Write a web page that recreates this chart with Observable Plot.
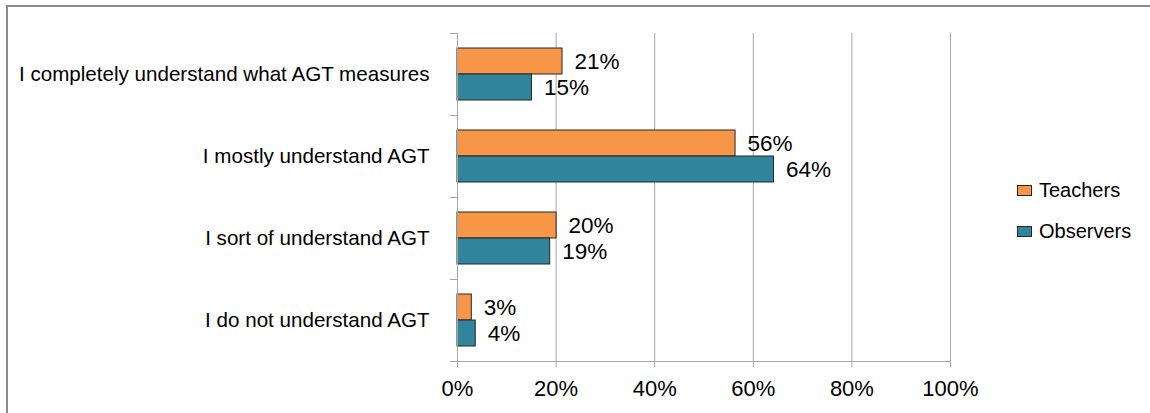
<!DOCTYPE html>
<html>
<head>
<meta charset="utf-8">
<script src="https://cdn.jsdelivr.net/npm/d3@7"></script>
<script src="https://cdn.jsdelivr.net/npm/@observablehq/plot@0.6"></script>
<style>
  html, body { margin: 0; padding: 0; background: #fff; }
  #wrap { position: relative; width: 1150px; height: 413px; overflow: hidden; font-family: "Liberation Sans", Arial, sans-serif; }
  #border { position: absolute; left: 6px; top: 5px; width: 1200px; height: 500px; border-top: 2px solid #8c8c8c; border-left: 2px solid #8c8c8c; }
  #chart { position: absolute; left: 0; top: 0; }
  #legend { position: absolute; left: 1017px; top: 176px; font-size: 20px; color: #000; }
  .item { display: flex; align-items: center; height: 29px; margin-bottom: 12px; }
  .sw { width: 13px; height: 9px; border: 1px solid #262626; margin-right: 7px; }
</style>
</head>
<body>
<div id="wrap">
  <div id="border"></div>
  <div id="chart"></div>
  <div id="legend"></div>
</div>
<script>
const categories = [
  "I completely understand what AGT measures",
  "I mostly understand AGT",
  "I sort of understand AGT",
  "I do not understand AGT"
];
const series = ["Teachers", "Observers"];
const teachers = [21.3, 56.4, 20.1, 2.9];
const observers = [15.1, 64.2, 18.8, 3.7];
const xTicks = [0, 20, 40, 60, 80, 100];
const colors = ["#F79646", "#31849B"];

const data = categories.flatMap((c, i) => [
  {category: c, series: "Teachers", value: teachers[i]},
  {category: c, series: "Observers", value: observers[i]}
]);

const W = 1150, H = 413, ML = 457, MR = 200, MT = 31, MB = 51;
const gray = "#a6a6a6";

const chart = Plot.plot({
  width: W, height: H,
  marginLeft: ML, marginRight: MR, marginTop: MT, marginBottom: MB,
  style: {fontFamily: "'Liberation Sans', Arial, sans-serif", fontSize: "20px", color: "#000", background: "transparent", overflow: "visible"},
  x: {domain: [0, 100], label: null},
  fy: {domain: categories, padding: 0, label: null},
  y: {domain: series, paddingInner: 0, paddingOuter: 0.57, axis: null},
  color: {domain: series, range: colors},
  marks: [
    Plot.gridX(xTicks.slice(1), {stroke: gray, strokeOpacity: 1}),
    Plot.barX(data, {fy: "category", y: "series", x: "value", fill: "series", stroke: "#262626", strokeWidth: 1}),
    Plot.text(data, {fy: "category", y: "series", x: "value", text: d => Math.round(d.value) + "%", textAnchor: "start", dx: 12, fontSize: 22.5, fill: "#000"}),
    Plot.ruleX([0], {stroke: gray}),
    Plot.frame({anchor: "top", stroke: gray, strokeOpacity: 1, insetLeft: -7, insetRight: W - ML - MR}),
    Plot.frame({anchor: "bottom", stroke: gray, strokeOpacity: 1, insetLeft: -7, facetAnchor: "bottom"}),
    Plot.axisX({ticks: xTicks, tickSize: 6, stroke: gray, strokeOpacity: 1, text: null, tickFormat: null}),
    Plot.axisX({ticks: xTicks, tickSize: 0, tickPadding: 19, tickFormat: d => d + "%", fontSize: 22, fill: "#000"}),
    Plot.axisFy({anchor: "left", tickSize: 0, tickPadding: 28, label: null, fontSize: 20.6, fill: "#000"})
  ]
});
document.getElementById("chart").appendChild(chart);

const legend = document.getElementById("legend");
series.forEach((s, i) => {
  const item = document.createElement("div");
  item.className = "item";
  const sw = document.createElement("div");
  sw.className = "sw";
  sw.style.background = colors[i];
  const lab = document.createElement("span");
  lab.textContent = s;
  item.appendChild(sw);
  item.appendChild(lab);
  legend.appendChild(item);
});
</script>
</body>
</html>
